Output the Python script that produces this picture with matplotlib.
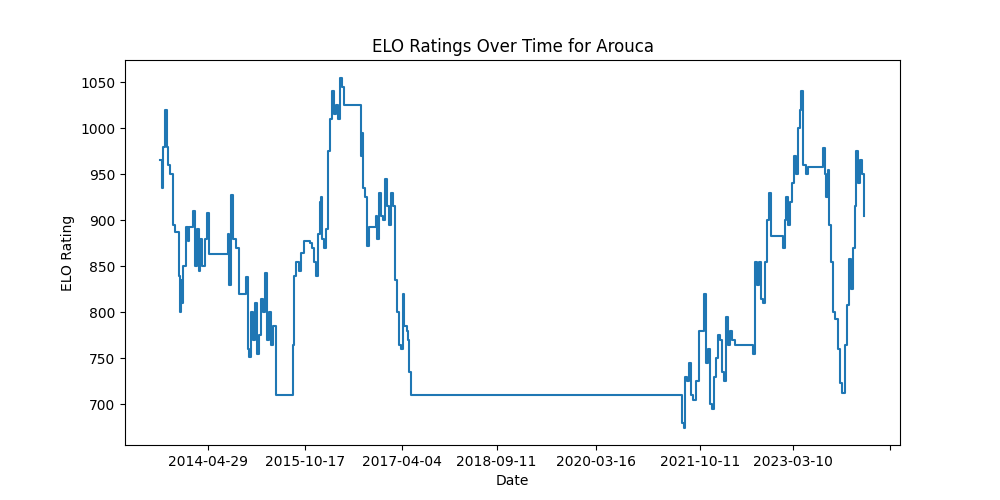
import matplotlib
matplotlib.use("Agg")
import matplotlib.pyplot as plt
import pandas as pd

start = pd.Timestamp("2013-08-07")
day_offsets = [0,11,17,28,39,44,55,72,83,100,105,111,116,122,127,144,155,160,182,194,205,216,221,232,249,260,271,365,376,382,393,404,420,437,476,487,492,503,514,525,536,547,559,570,581,592,603,614,625,641,730,735,741,752,769,780,796,830,841,852,863,874,885,890,896,907,918,929,940,951,962,973,984,995,1006,1018,1106,1112,1117,1123,1134,1145,1156,1183,1194,1200,1211,1222,1233,1244,1255,1266,1277,1288,1300,1311,1322,1333,1344,1349,1366,1371,1377,1388,
2876,2887,2898,2903,2914,2925,2936,2947,2964,2981,2997,3008,3019,3030,3042,3053,3064,3075,3086,3097,3108,3119,3130,3141,3152,3163,3180,3274,3279,3290,3301,3312,3324,3335,3346,3357,3368,3379,3434,3445,3456,3462,3473,3484,3495,3506,3517,3528,3539,3545,3556,3572,3583,3661,3666,3677,3683,3694,3700,3711,3722,3733,3749,3760,3771,3788,3799,3810,3821,3832,3843,3849,3860,3871,3882,3893]
elo = [965,935,980,1020,980,960,950,895,887,887,840,800,835,810,850,893,878,893,910,850,890,845,880,850,880,908,863,863,885,830,927,880,870,820,838,760,752,800,770,810,755,775,815,800,843,770,800,765,785,710,710,765,840,855,845,865,878,875,870,855,840,885,920,925,880,870,890,975,1010,1040,1015,1025,1010,1055,1045,1025,1025,970,995,935,925,872,893,893,905,880,930,905,900,945,915,895,930,915,835,800,765,760,820,785,780,770,735,710,
710,680,675,730,725,745,710,705,725,780,780,820,745,760,700,695,730,750,775,770,735,725,795,765,780,770,765,765,755,855,830,855,815,810,855,900,930,883,883,870,900,925,895,920,940,970,950,1000,1020,1040,960,950,958,958,978,950,925,955,895,855,800,793,760,723,713,765,808,858,825,870,915,975,940,965,950,905]

tick_dates = ["2014-04-29","2015-10-17","2017-04-04","2018-09-11","2020-03-16","2021-10-11","2023-03-10","2024-08-26"]
tick_labels = ["2014-04-29","2015-10-17","2017-04-04","2018-09-11","2020-03-16","2021-10-11","2023-03-10",""]

dates = [start + pd.Timedelta(days=d) for d in day_offsets]
fig, ax = plt.subplots(figsize=(10, 5), dpi=100)
ax.plot(dates, elo, drawstyle="steps-post", color="#1f77b4")
ax.set_xticks([pd.Timestamp(t) for t in tick_dates])
ax.set_xticklabels(tick_labels)
ax.set_xlim(start - pd.Timedelta(days=194), start + pd.Timedelta(days=4092))
ax.set_title("ELO Ratings Over Time for Arouca")
ax.set_xlabel("Date")
ax.set_ylabel("ELO Rating")
fig.savefig("out.png")
